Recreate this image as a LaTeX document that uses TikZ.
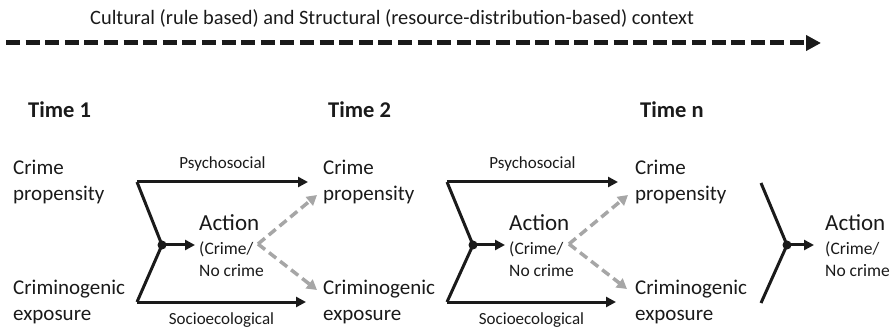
\documentclass[tikz,border=0pt]{standalone}
\usepackage{fontspec}
\setmainfont{Carlito}
\usetikzlibrary{arrows.meta}
\definecolor{ink}{HTML}{1A1A1A}
\definecolor{lgray}{HTML}{A6A6A6}
\begin{document}
\begin{tikzpicture}[x=1pt,y=-1pt,
  txt/.style={font=\fontsize{21}{25.5}\selectfont, align=left, inner sep=0pt, text=ink},
  small/.style={font=\fontsize{17}{20}\selectfont, inner sep=0pt, text=ink},
  act/.style={font=\fontsize{23}{26}\selectfont, inner sep=0pt, text=ink},
  actsub/.style={font=\fontsize{17.5}{22}\selectfont, align=left, inner sep=0pt, text=ink},
  timelbl/.style={font=\bfseries\fontsize{22.5}{25}\selectfont, inner sep=0pt, text=ink},
  solidline/.style={line width=3pt, draw=ink},
  arr/.style={solidline, -{Triangle[length=10pt,width=10pt]}},
  garr/.style={line width=3.5pt, draw=lgray, dash pattern=on 9pt off 5pt, -{Triangle[length=10pt,width=11pt]}},
  ctx/.style={line width=5pt, draw=ink, dash pattern=on 14pt off 5.6pt, -{Triangle[length=15pt,width=15pt]}}]
\useasboundingbox (0,0) rectangle (892,331);

% context
\node[font=\fontsize{20.4}{24}\selectfont, anchor=west, inner sep=0pt, text=ink] (title) at (90,18) {Cultural (rule based) and Structural (resource-distribution-based) context};
\coordinate (cs) at (6,43);
\coordinate (ce) at (821,43);
\draw[ctx] (cs) -- (ce);

% time labels
\node[timelbl, anchor=west] (t1) at (28,110) {Time 1};
\node[timelbl, anchor=west] (t2) at (328,110) {Time 2};
\node[timelbl, anchor=west] (tn) at (640,110) {Time n};

% block 1
\node[txt, anchor=west] (cp1) at (13,182) {Crime\\propensity};
\node[txt, anchor=west] (ce1) at (13,302) {Criminogenic\\exposure};
\coordinate (j1t) at (137,182);
\coordinate (j1b) at (137,302);
\coordinate (d1) at (162,245);
\coordinate (pe1) at (308,182);
\coordinate (se1) at (306,302);
\draw[solidline] (j1t) -- (d1) -- (j1b);
\draw[arr] (j1t) -- (pe1) node[small, midway, yshift=18pt] (ps1) {Psychosocial};
\draw[arr] (j1b) -- (se1) node[small, midway, yshift=-18pt] (so1) {Socioecological};
\fill[ink] (d1) circle (4.5pt);
\node[act, anchor=west] (act1) at (199,223) {Action};
\node[actsub, anchor=west] (sub1) at (199,259.5) {(Crime/\\No crime};
\coordinate (a1) at (195,245);
\draw[arr] (d1) -- (a1);
\coordinate (g1) at (258,244);
\coordinate (g1t) at (317,195);
\coordinate (g1b) at (317,290);
\draw[garr] (g1) -- (g1t);
\draw[garr] (g1) -- (g1b);

% block 2
\node[txt, anchor=west] (cp2) at (323,182) {Crime\\propensity};
\node[txt, anchor=west] (ce2) at (323,302) {Criminogenic\\exposure};
\coordinate (j2t) at (447,182);
\coordinate (j2b) at (447,302);
\coordinate (d2) at (473,245);
\coordinate (pe2) at (618,182);
\coordinate (se2) at (616,302);
\draw[solidline] (j2t) -- (d2) -- (j2b);
\draw[arr] (j2t) -- (pe2) node[small, midway, yshift=18pt] (ps2) {Psychosocial};
\draw[arr] (j2b) -- (se2) node[small, midway, yshift=-18pt] (so2) {Socioecological};
\fill[ink] (d2) circle (4.5pt);
\node[act, anchor=west] (act2) at (509,223) {Action};
\node[actsub, anchor=west] (sub2) at (509,259.5) {(Crime/\\No crime};
\coordinate (a2) at (505,245);
\draw[arr] (d2) -- (a2);
\coordinate (g2) at (569,244);
\coordinate (g2t) at (628,195);
\coordinate (g2b) at (627,289);
\draw[garr] (g2) -- (g2t);
\draw[garr] (g2) -- (g2b);

% block 3
\node[txt, anchor=west] (cp3) at (635,182) {Crime\\propensity};
\node[txt, anchor=west] (ce3) at (635,302) {Criminogenic\\exposure};
\coordinate (j3t) at (761,183);
\coordinate (j3b) at (761,303);
\coordinate (d3) at (787,245);
\draw[solidline] (j3t) -- (d3) -- (j3b);
\fill[ink] (d3) circle (4.5pt);
\coordinate (a3) at (814,245);
\draw[arr] (d3) -- (a3);
\node[act, anchor=west] (act3) at (825,223) {Action};
\node[actsub, anchor=west] (sub3) at (825,259.5) {(Crime/\\No crime};
\end{tikzpicture}
\end{document}
